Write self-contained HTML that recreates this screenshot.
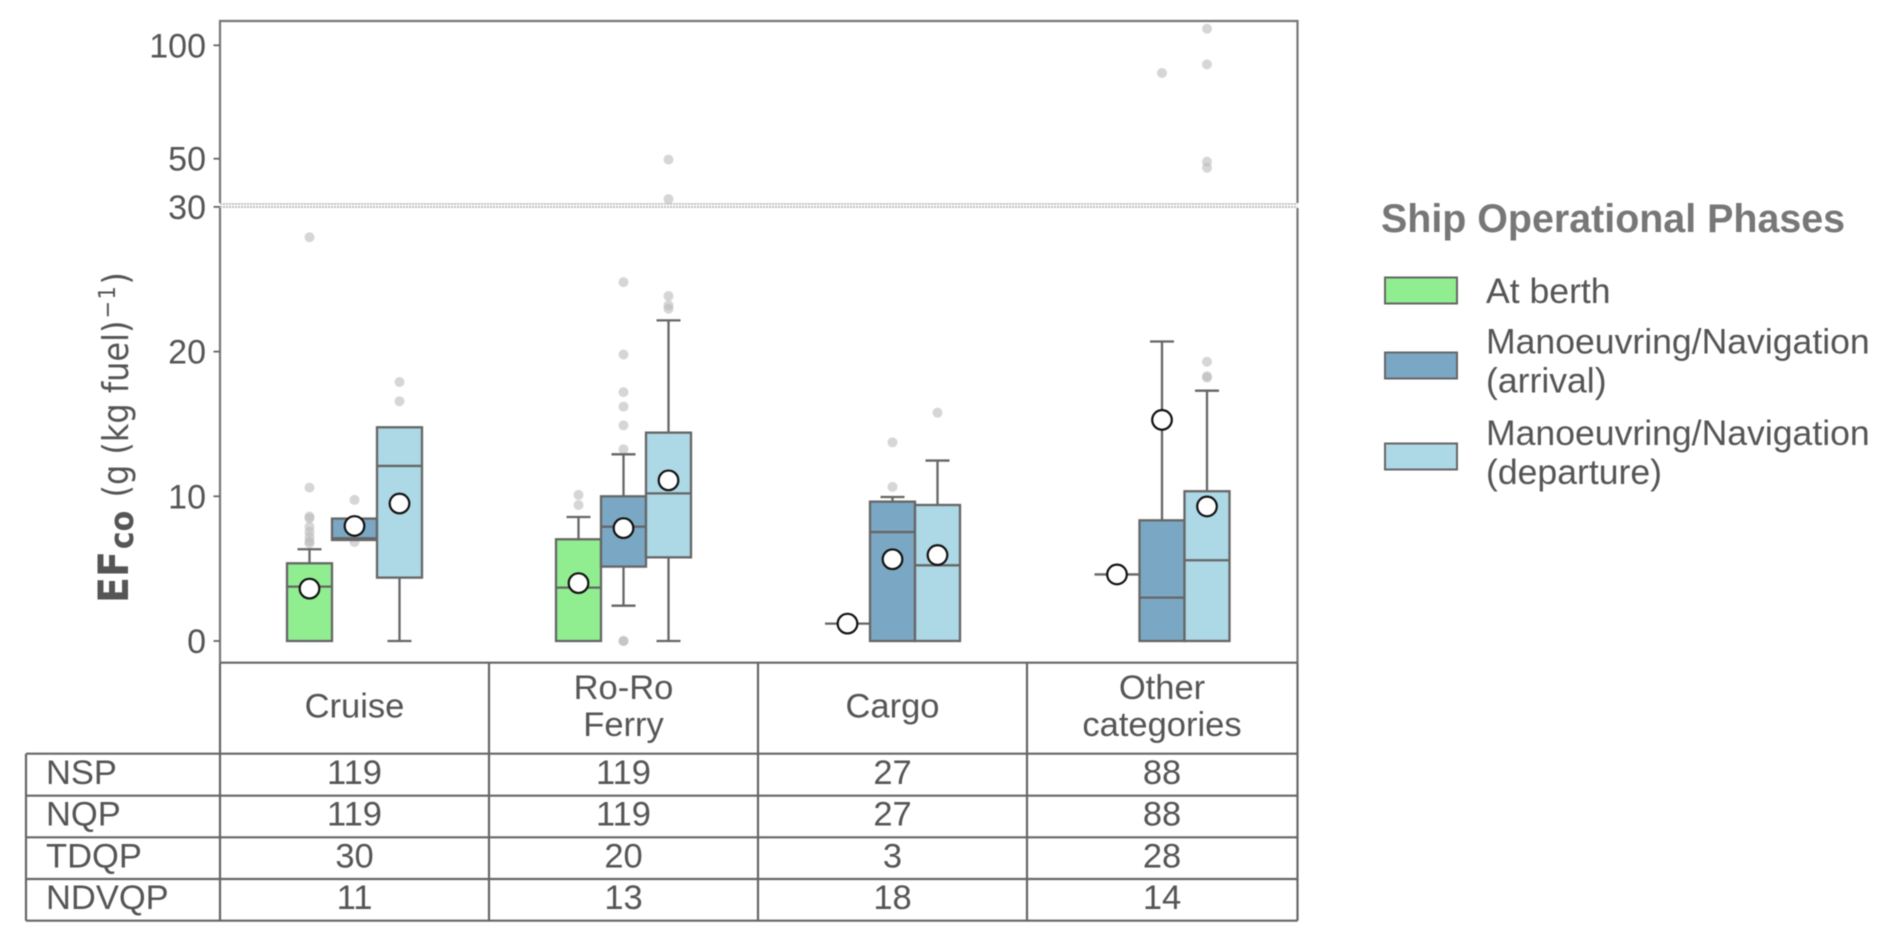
<!DOCTYPE html>
<html lang="en">
<head>
<meta charset="utf-8">
<title>EF CO by ship operational phase</title>
<style>
html,body{margin:0;padding:0;background:#fff;}
body{width:1892px;height:943px;overflow:hidden;}
svg{display:block;font-family:"Liberation Sans",sans-serif;filter:blur(0.45px);}
.t{font-size:34.5px;fill:#555;}
.c{text-anchor:middle;}
</style>
</head>
<body>
<svg id="chart" width="1892" height="943" viewBox="0 0 1892 943" xmlns="http://www.w3.org/2000/svg">
  <rect x="0" y="0" width="1892" height="943" fill="#ffffff"/>
  <g id="panel"></g>
  <g id="marks"></g>
  <g id="ticks"></g>

  <text transform="translate(128,603) rotate(-90) scale(1,1.1)" fill="#555" font-family="'DejaVu Sans',sans-serif"><tspan font-weight="bold" font-size="38">EF</tspan><tspan font-weight="bold" font-size="30" dy="4.5" dx="2">co</tspan><tspan font-size="32" dy="-4.5" dx="3"> (g (kg fuel)</tspan><tspan font-size="21" dy="-12" dx="2" letter-spacing="1.5">−1</tspan><tspan font-size="32" dy="12">)</tspan></text>

  <g id="table" stroke="#666" stroke-width="2.2" fill="none">
    <path d="M220 662.7H1297.5 M220 753.7H1297.5 M26 753.7H220 M26 795.7H1297.5 M26 837.3H1297.5 M26 879H1297.5 M26 920.7H1297.5 M26 753.7V920.7 M220 662.7V920.7 M489 662.7V920.7 M758 662.7V920.7 M1027 662.7V920.7 M1297.5 662.7V920.7"/>
  </g>

  <g>
    <text class="t c" x="354.5" y="717.5">Cruise</text>
    <text class="t c" x="623.5" y="699">Ro-Ro</text>
    <text class="t c" x="623.5" y="736">Ferry</text>
    <text class="t c" x="892.5" y="717.5">Cargo</text>
    <text class="t c" x="1162" y="699">Other</text>
    <text class="t c" x="1162" y="736">categories</text>
  </g>
  <g>
    <text class="t" x="46" y="784">NSP</text>
    <text class="t c" x="354.5" y="784">119</text>
    <text class="t c" x="623.5" y="784">119</text>
    <text class="t c" x="892.5" y="784">27</text>
    <text class="t c" x="1162" y="784">88</text>
    <text class="t" x="46" y="825.7">NQP</text>
    <text class="t c" x="354.5" y="825.7">119</text>
    <text class="t c" x="623.5" y="825.7">119</text>
    <text class="t c" x="892.5" y="825.7">27</text>
    <text class="t c" x="1162" y="825.7">88</text>
    <text class="t" x="46" y="867.3">TDQP</text>
    <text class="t c" x="354.5" y="867.3">30</text>
    <text class="t c" x="623.5" y="867.3">20</text>
    <text class="t c" x="892.5" y="867.3">3</text>
    <text class="t c" x="1162" y="867.3">28</text>
    <text class="t" x="46" y="909">NDVQP</text>
    <text class="t c" x="354.5" y="909">11</text>
    <text class="t c" x="623.5" y="909">13</text>
    <text class="t c" x="892.5" y="909">18</text>
    <text class="t c" x="1162" y="909">14</text>
  </g>

  <g>
    <text x="1381" y="232" font-size="39.4" font-weight="bold" fill="#777">Ship Operational Phases</text>
    <rect x="1385" y="277.5" width="72" height="26" fill="#90EE90" stroke="#666" stroke-width="2"/>
    <text x="1486" y="303" font-size="35.6" fill="#555">At berth</text>
    <rect x="1385" y="352.5" width="72" height="26" fill="#7AA8C4" stroke="#666" stroke-width="2"/>
    <text x="1486" y="353.5" font-size="35.6" fill="#555">Manoeuvring/Navigation</text>
    <text x="1486" y="392.5" font-size="35.6" fill="#555">(arrival)</text>
    <rect x="1385" y="443.5" width="72" height="26" fill="#ADD8E6" stroke="#666" stroke-width="2"/>
    <text x="1486" y="445" font-size="35.6" fill="#555">Manoeuvring/Navigation</text>
    <text x="1486" y="484" font-size="35.6" fill="#555">(departure)</text>
  </g>
</svg>

<script>
// ---- Chart data ----
const categories = ["cruise", "ro-ro-ferry", "cargo", "other-categories"];
const phases = ["at-berth", "arrival", "departure"];
const phaseColors = ["#90EE90", "#7AA8C4", "#ADD8E6"];

// Indexed [category][phase]
const q1Values = [
  [0, 6.98, 4.38],
  [0, 5.14, 5.78],
  [1.2, 0, 0],
  [4.6, 0, 0]
];
const medianValues = [
  [3.76, 7.1, 12.1],
  [3.69, 7.9, 10.2],
  [1.2, 7.53, 5.23],
  [4.6, 3.0, 5.58]
];
const q3Values = [
  [5.37, 8.46, 14.77],
  [7.03, 10.0, 14.4],
  [1.2, 9.63, 9.4],
  [4.6, 8.34, 10.35]
];
const whiskerLowValues = [
  [0, 6.98, 0],
  [0, 2.44, 0],
  [1.2, 0, 0],
  [4.6, 0, 0]
];
const whiskerHighValues = [
  [6.34, 8.46, 14.77],
  [8.57, 12.9, 22.16],
  [1.2, 9.95, 12.47],
  [4.6, 20.7, 17.3]
];
const meanValues = [
  [3.62, 7.95, 9.5],
  [4.0, 7.8, 11.1],
  [1.2, 5.65, 5.94],
  [4.6, 15.28, 9.3]
];
const outlierValues = [
  [[27.9, 10.6, 8.6, 8.48, 7.9, 7.56, 7.2, 6.9, 6.75], [9.75, 6.84], [17.9, 16.57]],
  [[10.1, 9.4], [24.8, 19.8, 17.2, 16.2, 14.9, 13.25, 0, 0], [49.6, 32.2, 23.84, 23.2, 22.96]],
  [[], [13.73, 10.65], [15.78]],
  [[], [87.8], [107.3, 91.6, 48.7, 46, 19.3, 18.3, 18.2]]
];
const tickValues = [0, 10, 20, 30, 50, 100];
const tickLabels = ["0", "10", "20", "30", "50", "100"];

// ---- Axis functions ----
function yScale(v) {
  if (v <= 30) { return 641 - 14.47 * v; }
  return 158.7 - 2.268 * (v - 50);
}
function xGroup(i) {
  return 354.5 + 269 * i + (i === 3 ? 0.5 : 0);
}
function xPhase(i, j) {
  return xGroup(i) + (j - 1) * 45;
}

const NS = "http://www.w3.org/2000/svg";
const BOX_W = 45;
const CAP_W = 24;
const STROKE = "#666";

function mk(tag, parent, attrs) {
  const el = document.createElementNS(NS, tag);
  for (const k in attrs) { el.setAttribute(k, attrs[k]); }
  parent.appendChild(el);
  return el;
}

const panel = document.getElementById("panel");
const marks = document.getElementById("marks");
const ticks = document.getElementById("ticks");

// Panel frame
const frame = mk("path", panel, {d: "M220 662.7V21H1297.5V662.7", fill: "none", stroke: "#777", "stroke-width": 2.2});



// Axis break
const gap = mk("rect", panel, {x: 218, y: 203, width: 1082, height: 5, fill: "#fff"});


const breakTop = mk("line", panel, {x1: 220, x2: 1297.5, y1: 204, y2: 204, stroke: "#bbb", "stroke-width": 1.8, "stroke-dasharray": "2 1"});


const breakBottom = mk("line", panel, {x1: 220, x2: 1297.5, y1: 207, y2: 207, stroke: "#bbb", "stroke-width": 1.8, "stroke-dasharray": "2 1"});



// Ticks
tickValues.forEach(function (v, k) {
  const y = yScale(v);
  const tick = mk("line", ticks, {x1: 213.5, x2: 220, y1: y, y2: y, stroke: "#666", "stroke-width": 1.8});
  
  
  const label = mk("text", ticks, {x: 206, y: y + 12, "text-anchor": "end", "font-size": 34, fill: "#555"});
  
  
  label.textContent = tickLabels[k];
});

// Boxes
categories.forEach(function (cat, i) {
  phases.forEach(function (phase, j) {
    const g = mk("g", marks, {});
    
    
    const cx = xPhase(i, j);

    outlierValues[i][j].forEach(function (v) {
      const dot = mk("circle", g, {cx: cx, cy: yScale(v), r: 5, fill: "#bdbdbd", "fill-opacity": 0.62});
      
      
    });

    const wHi = whiskerHighValues[i][j];
    const wLo = whiskerLowValues[i][j];
    const q1 = q1Values[i][j];
    const q3 = q3Values[i][j];
    const med = medianValues[i][j];

    if (wHi > q3) {
      const up = mk("line", g, {x1: cx, x2: cx, y1: yScale(q3), y2: yScale(wHi), stroke: STROKE, "stroke-width": 2.3});
      
      
      const capUp = mk("line", g, {x1: cx - CAP_W / 2, x2: cx + CAP_W / 2, y1: yScale(wHi), y2: yScale(wHi), stroke: STROKE, "stroke-width": 2.3});
      
      
    }
    if (wLo < q1) {
      const down = mk("line", g, {x1: cx, x2: cx, y1: yScale(q1), y2: yScale(wLo), stroke: STROKE, "stroke-width": 2.3});
      
      
      const capDown = mk("line", g, {x1: cx - CAP_W / 2, x2: cx + CAP_W / 2, y1: yScale(wLo), y2: yScale(wLo), stroke: STROKE, "stroke-width": 2.3});
      
      
    }

    const box = mk("rect", g, {x: cx - BOX_W / 2, y: yScale(q3), width: BOX_W, height: yScale(q1) - yScale(q3), fill: phaseColors[j], stroke: STROKE, "stroke-width": 2.3});
    
    

    const medLine = mk("line", g, {x1: cx - BOX_W / 2, x2: cx + BOX_W / 2, y1: yScale(med), y2: yScale(med), stroke: STROKE, "stroke-width": 2.3});
    
    
  });
});

// Means drawn on top of every box
categories.forEach(function (cat, i) {
  phases.forEach(function (phase, j) {
    const mean = mk("circle", marks, {cx: xPhase(i, j), cy: yScale(meanValues[i][j]), r: 9.8, fill: "#fff", stroke: "#111", "stroke-width": 2.2});
    
    
  });
});
</script>
</body>
</html>
